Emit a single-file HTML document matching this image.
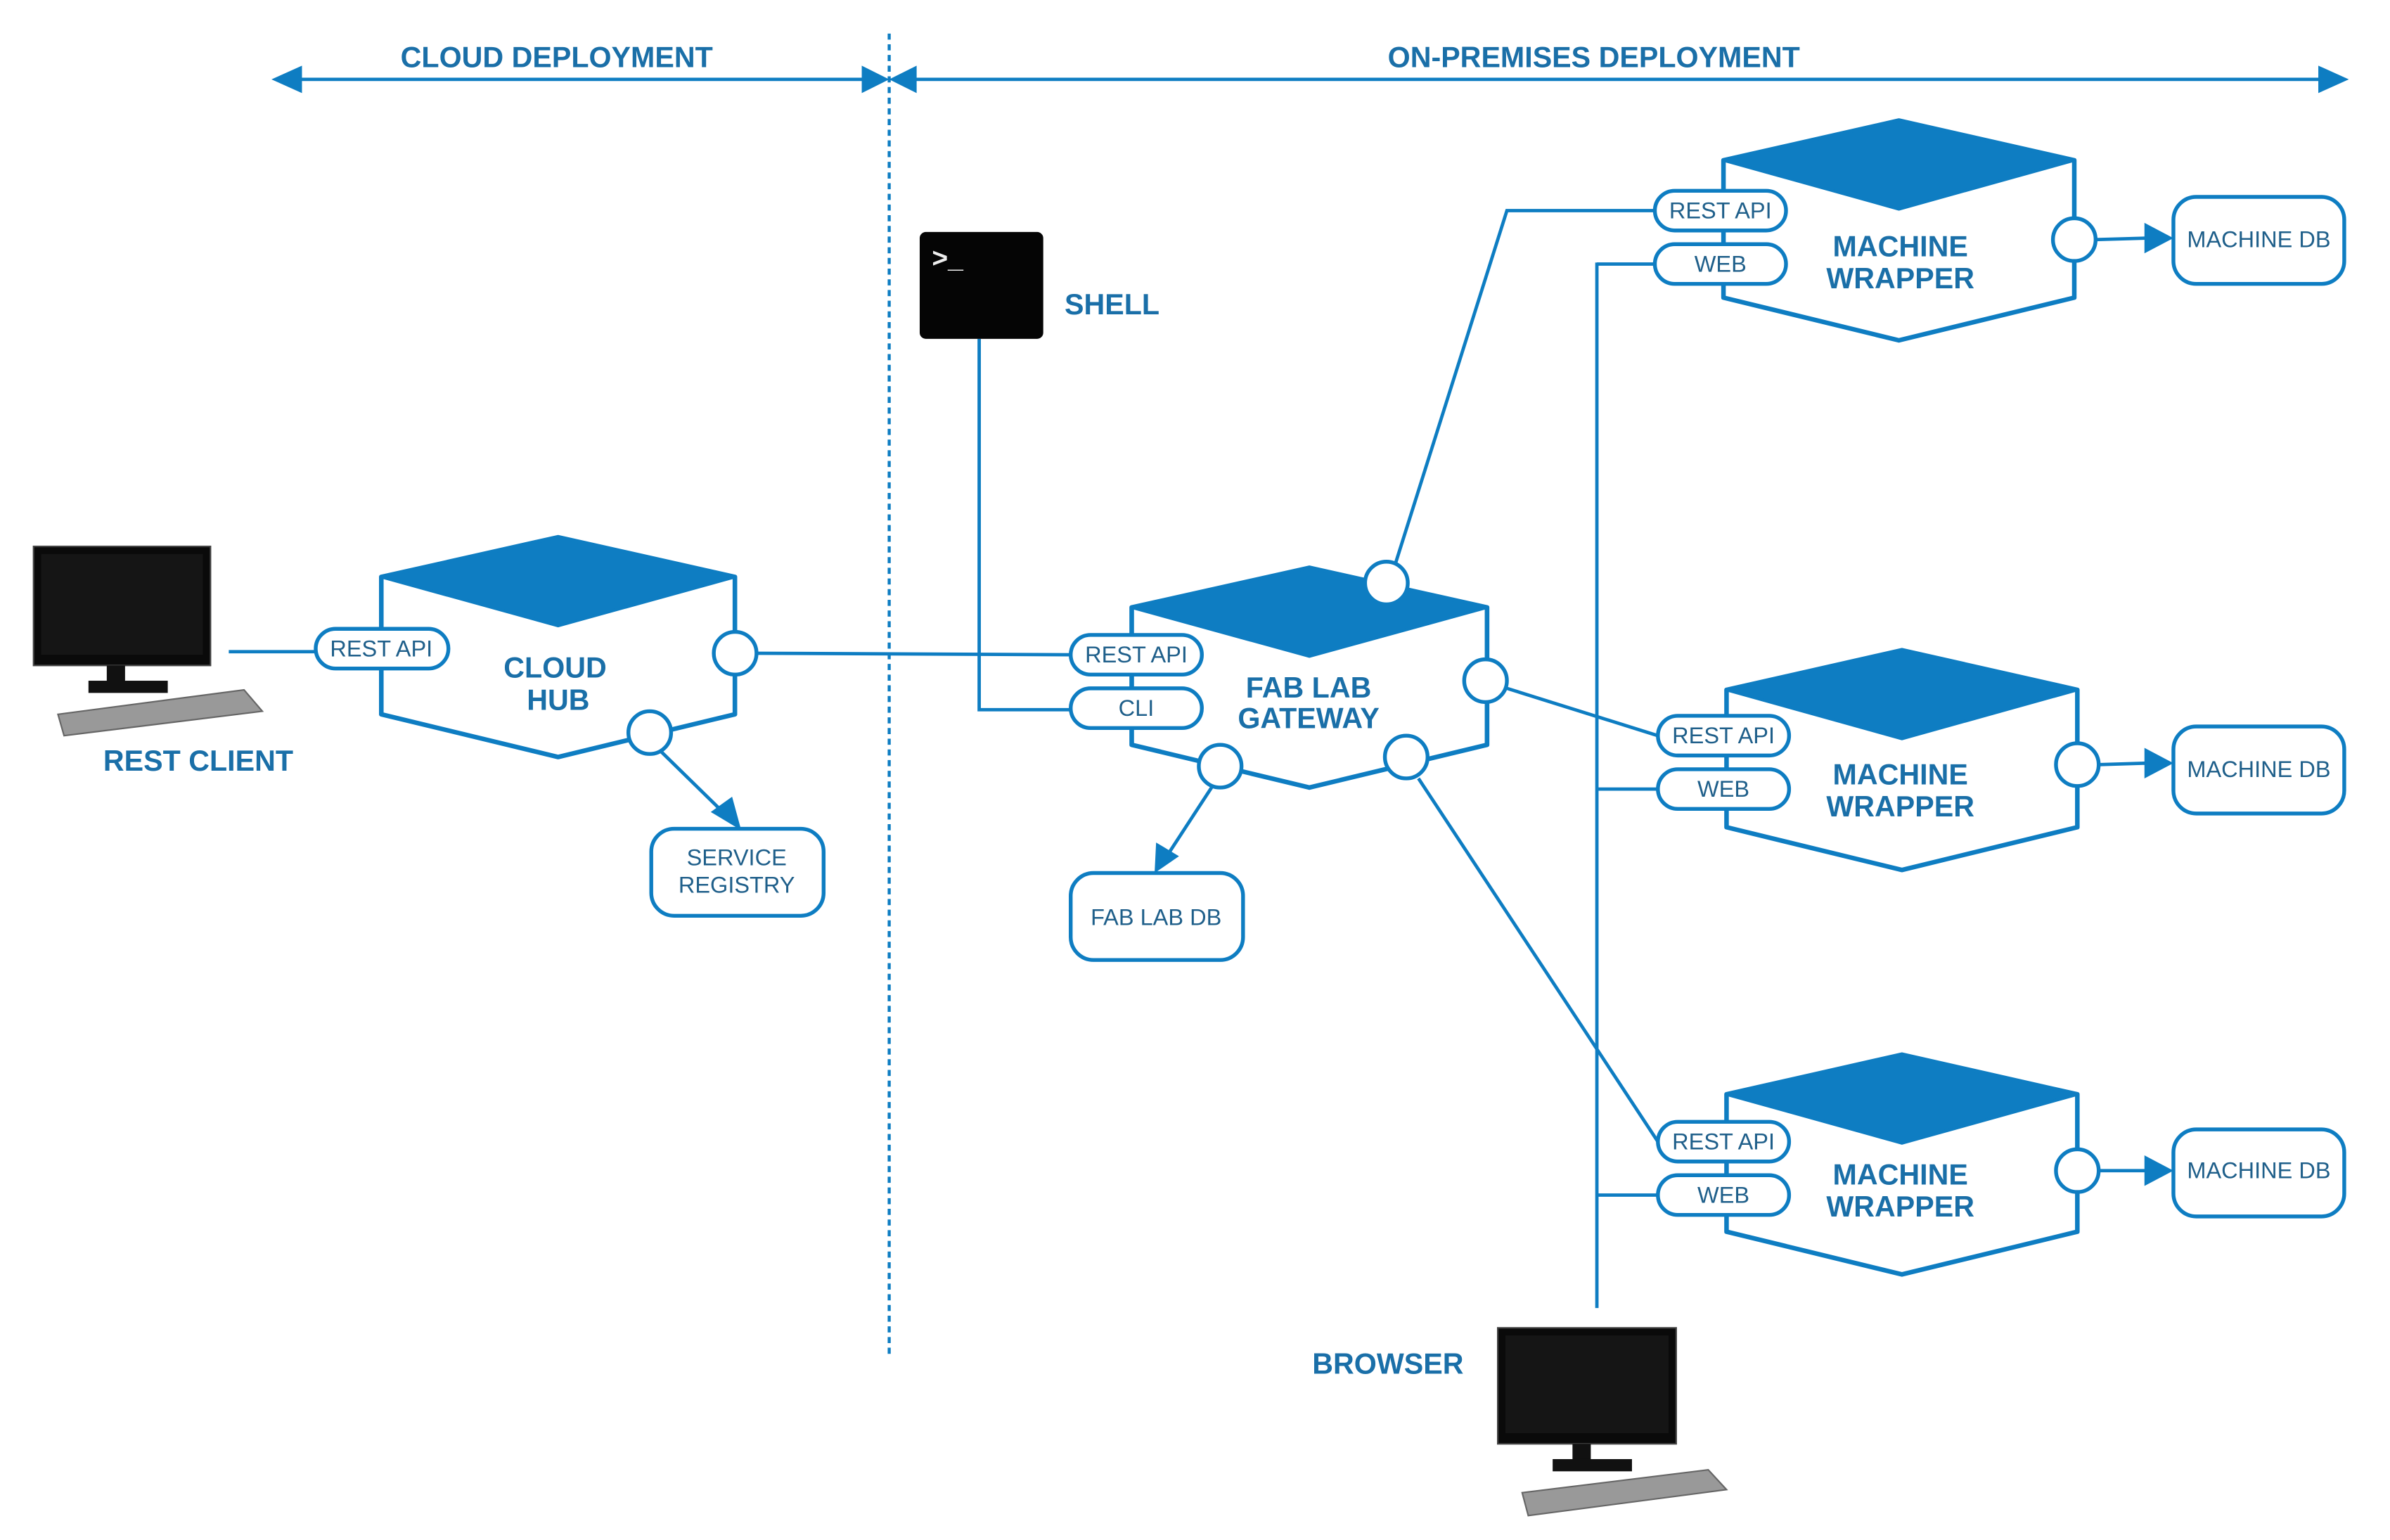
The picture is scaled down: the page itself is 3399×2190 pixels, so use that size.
<!DOCTYPE html>
<html><head><meta charset="utf-8"><style>
html,body{margin:0;padding:0;background:#fff;}
svg{display:block;}
text{font-family:"Liberation Sans",sans-serif;fill:#1a6fa8;}
.b{font-weight:bold;font-size:19px;}
.p{font-size:15px;fill:#1f5f8a;}
.d{font-size:15px;fill:#1f5f8a;}
</style></head><body>
<svg width="3399" height="2190" viewBox="0 0 1567 1009" preserveAspectRatio="none" xmlns="http://www.w3.org/2000/svg">
<defs>
<g id="nodeShape">
<path d="M0,0 L115,-26 L230,0 L230,90 L115,118 L0,90 Z" fill="#fff" stroke="#0e7dc2" stroke-width="3" stroke-linejoin="round"/>
<path d="M0,0 L115,-26 L230,0 L115,32 Z" fill="#0e7dc2" stroke="#0e7dc2" stroke-width="2" stroke-linejoin="round"/>
</g>
</defs>
<g stroke="#0e7dc2" stroke-width="2.2" fill="none">
<line x1="190" y1="52" x2="572" y2="52"/>
<line x1="596" y1="52" x2="1528" y2="52"/>
<line x1="583" y1="22" x2="583" y2="888" stroke-dasharray="4,3" stroke-width="2"/>
<line x1="150" y1="427" x2="207" y2="427"/>
<line x1="496" y1="428" x2="702" y2="429"/>
<polyline points="642,222 642,465 702,465"/>
<polyline points="915,369 988,138 1085,138"/>
<line x1="988" y1="451" x2="1087" y2="482"/>
<line x1="930" y1="510" x2="1087" y2="748"/>
<line x1="1047" y1="172" x2="1047" y2="857"/>
<line x1="1047" y1="173" x2="1085" y2="173"/>
<line x1="1047" y1="517" x2="1087" y2="517"/>
<line x1="1047" y1="783" x2="1087" y2="783"/>
<line x1="433" y1="492" x2="478" y2="536"/>
<line x1="795" y1="515" x2="763" y2="564"/>
<line x1="1374" y1="157" x2="1408" y2="156"/>
<line x1="1376" y1="501" x2="1408" y2="500"/>
<line x1="1376" y1="767" x2="1408" y2="767"/>
</g>
<g fill="#0e7dc2">
<polygon points="178,52 198,43 198,61"/>
<polygon points="583,52 565,43 565,61"/>
<polygon points="583,52 601,43 601,61"/>
<polygon points="1540,52 1520,43 1520,61"/>
<polygon points="486,544 466,532 480,522"/>
<polygon points="757,572 758,552 773,561"/>
<polygon points="1425,156 1406,146 1406,166"/>
<polygon points="1425,500 1406,490 1406,510"/>
<polygon points="1425,767 1406,757 1406,777"/>
</g>
<text class="b" x="365" y="44" text-anchor="middle" font-size="20">CLOUD DEPLOYMENT</text>
<text class="b" x="1045" y="44" text-anchor="middle" font-size="20">ON-PREMISES DEPLOYMENT</text>
<use href="#nodeShape" transform="translate(250,378) scale(1.008,1)"/>
<use href="#nodeShape" transform="translate(742,398) scale(1.013,1)"/>
<use href="#nodeShape" transform="translate(1130,105)"/>
<use href="#nodeShape" transform="translate(1132,452)"/>
<use href="#nodeShape" transform="translate(1132,717)"/>
<g fill="#fff" stroke="#0e7dc2" stroke-width="2.5">
<circle cx="482" cy="428" r="14"/>
<circle cx="426" cy="480" r="14"/>
<circle cx="909" cy="382" r="14"/>
<circle cx="974" cy="446" r="14"/>
<circle cx="800" cy="502" r="14"/>
<circle cx="922" cy="496" r="14"/>
<circle cx="1360" cy="157" r="14"/>
<circle cx="1362" cy="501" r="14"/>
<circle cx="1362" cy="767" r="14"/>
<rect x="207" y="412" width="87" height="26" rx="13"/>
<rect x="702" y="416" width="86" height="26" rx="13"/>
<rect x="702" y="451" width="86" height="26" rx="13"/>
<rect x="1085" y="125" width="86" height="26" rx="13"/>
<rect x="1085" y="160" width="86" height="26" rx="13"/>
<rect x="1087" y="469" width="86" height="26" rx="13"/>
<rect x="1087" y="504" width="86" height="26" rx="13"/>
<rect x="1087" y="735" width="86" height="26" rx="13"/>
<rect x="1087" y="770" width="86" height="26" rx="13"/>
<rect x="1425" y="129" width="112" height="57" rx="15"/>
<rect x="1425" y="476" width="112" height="57" rx="15"/>
<rect x="1425" y="740" width="112" height="57" rx="15"/>
<rect x="427" y="543" width="113" height="57" rx="15"/>
<rect x="702" y="572" width="113" height="57" rx="15"/>
</g>
<g class="p" text-anchor="middle">
<text class="p" x="250" y="430">REST API</text>
<text class="p" x="745" y="434">REST API</text>
<text class="p" x="745" y="469">CLI</text>
<text class="p" x="1128" y="143">REST API</text>
<text class="p" x="1128" y="178">WEB</text>
<text class="p" x="1130" y="487">REST API</text>
<text class="p" x="1130" y="522">WEB</text>
<text class="p" x="1130" y="753">REST API</text>
<text class="p" x="1130" y="788">WEB</text>
<text class="d" x="1481" y="162">MACHINE DB</text>
<text class="d" x="1481" y="509">MACHINE DB</text>
<text class="d" x="1481" y="772">MACHINE DB</text>
<text class="d" x="483" y="567">SERVICE</text>
<text class="d" x="483" y="585">REGISTRY</text>
<text class="d" x="758" y="606">FAB LAB DB</text>
<text class="b" x="364" y="444" font-size="18">CLOUD</text>
<text class="b" x="366" y="465" font-size="18">HUB</text>
<text class="b" x="858" y="457" font-size="18">FAB LAB</text>
<text class="b" x="858" y="477" font-size="18">GATEWAY</text>
<text class="b" x="1246" y="168" font-size="18">MACHINE</text>
<text class="b" x="1246" y="189" font-size="18">WRAPPER</text>
<text class="b" x="1246" y="514" font-size="18">MACHINE</text>
<text class="b" x="1246" y="535" font-size="18">WRAPPER</text>
<text class="b" x="1246" y="776" font-size="18">MACHINE</text>
<text class="b" x="1246" y="797" font-size="18">WRAPPER</text>
</g>
<text class="b" x="130" y="505" text-anchor="middle" font-size="18">REST CLIENT</text>
<text class="b" x="698" y="206" font-size="18">SHELL</text>
<text class="b" x="910" y="900" text-anchor="middle" font-size="18">BROWSER</text>
<rect x="603" y="152" width="81" height="70" rx="4" fill="#050505"/>
<text x="611" y="175" font-size="18" font-weight="bold" style="fill:#eee">&gt;_</text>
<g>
<rect x="22" y="358" width="116" height="78" fill="#0a0a0a" stroke="#444" stroke-width="1"/>
<rect x="27" y="363" width="106" height="66" fill="#151515"/>
<rect x="70" y="436" width="12" height="12" fill="#111"/>
<rect x="58" y="446" width="52" height="8" fill="#111"/>
<polygon points="38,468 160,452 172,466 42,482" fill="#999" stroke="#666"/>
</g>
<g>
<rect x="982" y="870" width="117" height="76" fill="#0a0a0a" stroke="#444" stroke-width="1"/>
<rect x="987" y="875" width="107" height="64" fill="#151515"/>
<rect x="1031" y="946" width="12" height="12" fill="#111"/>
<rect x="1018" y="956" width="52" height="8" fill="#111"/>
<polygon points="998,978 1120,963 1132,976 1002,993" fill="#999" stroke="#666"/>
</g>
</svg>
</body></html>
